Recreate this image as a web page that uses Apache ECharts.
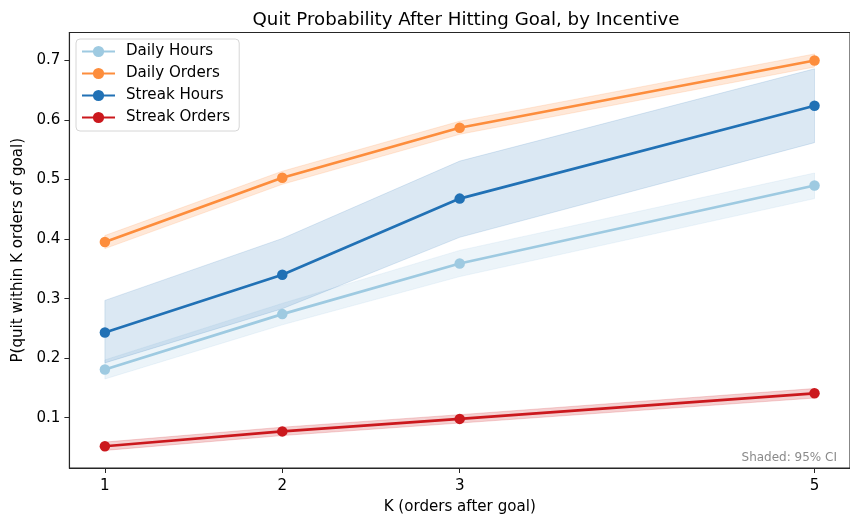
<!DOCTYPE html>
<html>
<head>
<meta charset="utf-8">
<script src="https://cdn.jsdelivr.net/npm/echarts@6/dist/echarts.min.js"></script>
<style>
  html, body { margin: 0; padding: 0; background: #fff; }
  #chart { width: 850px; height: 520px; }
</style>
</head>
<body>
<div id="chart"></div>
<script>
// K values (orders after goal)
const kValues = [1, 2, 3, 5];
const xTicks = [1, 2, 3, 5];
const yTicks = [0.1, 0.2, 0.3, 0.4, 0.5, 0.6, 0.7];

// Quit probability per incentive, with 95% CI bounds
const dailyHours      = [0.181, 0.274, 0.359, 0.490];
const dailyHoursLo    = [0.165, 0.256, 0.337, 0.468];
const dailyHoursHi    = [0.197, 0.292, 0.381, 0.511];

const dailyOrders     = [0.395, 0.503, 0.587, 0.700];
const dailyOrdersLo   = [0.384, 0.492, 0.576, 0.689];
const dailyOrdersHi   = [0.406, 0.514, 0.598, 0.711];

const streakHours     = [0.243, 0.340, 0.468, 0.624];
const streakHoursLo   = [0.192, 0.283, 0.403, 0.562];
const streakHoursHi   = [0.297, 0.401, 0.531, 0.686];

const streakOrders    = [0.052, 0.077, 0.098, 0.141];
const streakOrdersLo  = [0.045, 0.070, 0.091, 0.133];
const streakOrdersHi  = [0.059, 0.084, 0.105, 0.149];

const seriesNames = ['Daily Hours', 'Daily Orders', 'Streak Hours', 'Streak Orders'];
const colors = ['#9ecae1', '#fd8d3c', '#2171b5', '#cb181d'];
const bandAlpha = [0.2, 0.2, 0.16, 0.2];

const means = [dailyHours, dailyOrders, streakHours, streakOrders];
const lows  = [dailyHoursLo, dailyOrdersLo, streakHoursLo, streakOrdersLo];
const highs = [dailyHoursHi, dailyOrdersHi, streakHoursHi, streakOrdersHi];

const FONT = 'DejaVu Sans';
const FS = 15.1;

function hexA(hex, a) {
  const n = parseInt(hex.slice(1), 16);
  return `rgba(${(n >> 16) & 255},${(n >> 8) & 255},${n & 255},${a})`;
}

// Confidence band polygon built from the axis scales
function bandSeries(i) {
  return {
    type: 'custom',
    name: seriesNames[i] + ' CI',
    z: 1,
    silent: true,
    data: [0],
    renderItem: function (params, api) {
      const pts = [];
      for (let j = 0; j < kValues.length; j++) pts.push(api.coord([kValues[j], highs[i][j]]));
      for (let j = kValues.length - 1; j >= 0; j--) pts.push(api.coord([kValues[j], lows[i][j]]));
      return {
        type: 'polygon',
        shape: { points: pts },
        style: {
          fill: hexA(colors[i], bandAlpha[i]),
          stroke: hexA(colors[i], bandAlpha[i] * 0.9),
          lineWidth: 1
        }
      };
    }
  };
}

function lineSeries(i) {
  return {
    type: 'line',
    name: seriesNames[i],
    z: 3,
    data: kValues.map((k, j) => [k, means[i][j]]),
    symbol: 'circle',
    symbolSize: 10.5,
    showSymbol: true,
    color: colors[i],
    lineStyle: { width: 2.7, color: colors[i] },
    itemStyle: { color: colors[i] },
    emphasis: { disabled: true },
    animation: false
  };
}

const series = [];
for (let i = 0; i < 4; i++) series.push(bandSeries(i));
for (let i = 0; i < 4; i++) series.push(lineSeries(i));

const chart = echarts.init(document.getElementById('chart'), null, { renderer: 'canvas' });
chart.setOption({
  animation: false,
  backgroundColor: '#ffffff',
  title: {
    text: 'Quit Probability After Hitting Goal, by Incentive',
    left: 461,
    textAlign: 'center',
    top: 6,
    textStyle: { fontFamily: FONT, fontSize: 18.2, fontWeight: 'normal', color: '#000' }
  },
  grid: {
    left: 69.4,
    top: 32.5,
    width: 783.2,
    height: 441.5,
    show: true,
    borderColor: '#262626',
    borderWidth: 1.1,
    backgroundColor: 'transparent'
  },
  legend: {
    data: seriesNames,
    orient: 'vertical',
    left: 76,
    top: 39,
    padding: [5, 9, 6, 5],
    itemWidth: 33,
    itemHeight: 14,
    itemGap: 7,
    backgroundColor: 'rgba(255,255,255,0.85)',
    borderColor: '#d6d6d6',
    borderWidth: 1,
    borderRadius: 4,
    textStyle: { fontFamily: FONT, fontSize: FS, color: '#000', padding: [0, 0, 0, 6] }
  },
  xAxis: {
    type: 'value',
    min: 0.8,
    max: 5.2,
    name: 'K (orders after goal)',
    nameLocation: 'middle',
    nameGap: 32,
    nameTextStyle: { fontFamily: FONT, fontSize: FS, color: '#000' },
    axisLine: { show: true, lineStyle: { color: '#262626', width: 1.1 } },
    axisTick: { show: true, length: 5, customValues: xTicks, lineStyle: { color: '#262626', width: 1 } },
    axisLabel: { customValues: xTicks, margin: 11, fontFamily: FONT, fontSize: FS, color: '#000' },
    splitLine: { show: false }
  },
  yAxis: {
    type: 'value',
    min: 0.0155,
    max: 0.747,
    name: 'P(quit within K orders of goal)',
    nameLocation: 'middle',
    nameGap: 42,
    nameTextStyle: { fontFamily: FONT, fontSize: FS, color: '#000' },
    axisLine: { show: true, lineStyle: { color: '#262626', width: 1.1 } },
    axisTick: { show: true, length: 5, customValues: yTicks, lineStyle: { color: '#262626', width: 1 } },
    axisLabel: {
      customValues: yTicks, margin: 9, fontFamily: FONT, fontSize: FS, color: '#000',
      formatter: v => v.toFixed(1)
    },
    splitLine: { show: false }
  },
  graphic: [{
    type: 'text',
    right: 13,
    top: 452,
    style: { text: 'Shaded: 95% CI', fontFamily: FONT, fontSize: 12, fill: '#8a8a8a' }
  }],
  series: series
});
</script>
</body>
</html>
